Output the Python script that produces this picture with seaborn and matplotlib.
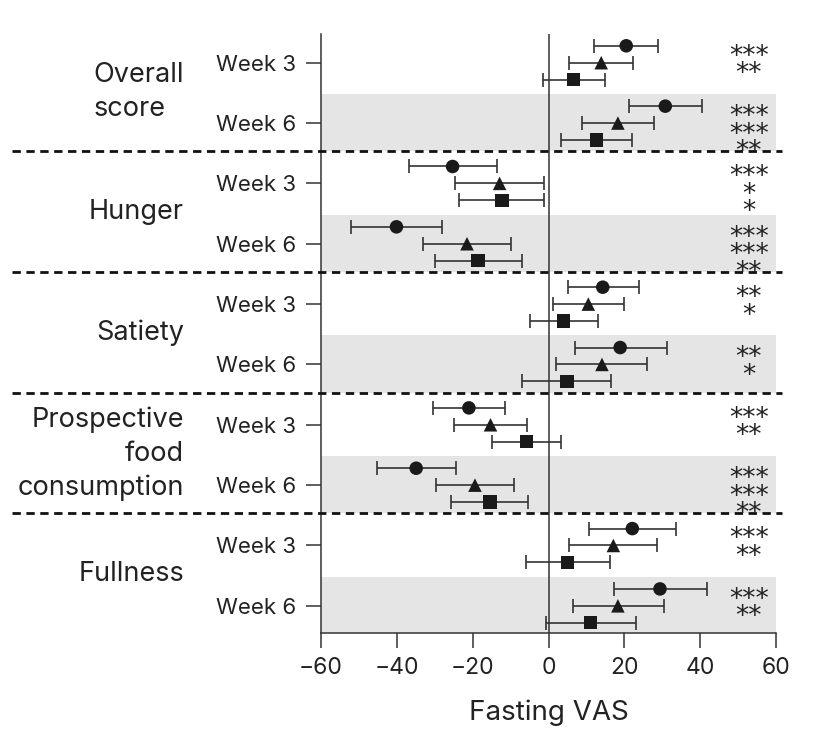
import numpy as np
import pandas as pd
import seaborn as sns
import matplotlib.pyplot as plt

# groups and weeks (y axis)
groups = ["Overall\nscore", "Hunger", "Satiety", "Prospective\nfood\nconsumption", "Fullness"]
weeks = ["Week 3", "Week 6"]

# circle series
circ = [20.5, 30.8, -25.3, -40.1, 14.3, 18.9, -21.0, -34.9, 22.1, 29.4]
circ_lo = [12.1, 21.2, -36.9, -52.1, 5.2, 7.0, -30.5, -45.3, 10.7, 17.2]
circ_hi = [29.0, 40.4, -13.6, -28.2, 23.9, 31.2, -11.4, -24.3, 33.5, 41.7]
circ_sig = ["***", "***", "***", "***", "**", "**", "***", "***", "***", "***"]

# triangle series
tri = [13.9, 18.3, -12.9, -21.5, 10.5, 14.1, -15.3, -19.4, 17.1, 18.3]
tri_lo = [5.4, 8.8, -24.6, -33.2, 1.2, 2.1, -24.8, -29.8, 5.5, 6.4]
tri_hi = [22.3, 27.7, -1.2, -9.8, 19.8, 26.1, -5.6, -9.0, 28.5, 30.5]
tri_sig = ["**", "***", "*", "***", "*", "*", "**", "***", "**", "**"]

# square series
sq = [6.6, 12.6, -12.2, -18.6, 4.0, 4.9, -5.8, -15.5, 5.0, 11.1]
sq_lo = [-1.4, 3.4, -23.5, -30.0, -5.0, -6.9, -15.0, -25.6, -5.9, -0.7]
sq_hi = [14.8, 21.9, -1.1, -7.1, 13.0, 16.5, 3.4, -5.3, 16.1, 23.0]
sq_sig = ["", "**", "*", "**", "", "", "", "**", "", ""]

xticks = [-60, -40, -20, 0, 20, 40, 60]

sns.set_style("ticks")
plt.rcParams['font.family'] = ['Inter', 'DejaVu Sans']
ink = "#222222"

rows = np.arange(len(groups) * len(weeks))
series = [("circle", "o", circ, circ_lo, circ_hi, -0.28),
          ("triangle", "^", tri, tri_lo, tri_hi, 0.0),
          ("square", "s", sq, sq_lo, sq_hi, 0.28)]

frames = []
for name, m, mean, lo, hi, off in series:
    frames.append(pd.DataFrame({"series": name, "x": mean, "lo": lo, "hi": hi,
                                "y": rows + off}))
df = pd.concat(frames, ignore_index=True)

fig = plt.figure(figsize=(8.16, 7.35), dpi=100)
ax = fig.add_axes([0.3934, 0.1388, 0.5576, 0.8149])

# shaded week 6 rows and dashed separators
for g in range(len(groups)):
    top = 2 * g + 0.52
    bot = 2 * g + 1.47 if g < len(groups) - 1 else 9.45
    ax.axhspan(top, bot, color="#e5e5e5", lw=0, zorder=0)
    if g < len(groups) - 1:
        ax.plot([-0.68, 1.013], [2 * g + 1.47] * 2, transform=ax.get_yaxis_transform(),
                ls=(0, (3, 2)), color="#111111", lw=2, clip_on=False, zorder=3)

ax.axvline(0, color="#333333", lw=1.1, zorder=1)

ax.errorbar(df["x"], df["y"], xerr=[df["x"] - df["lo"], df["hi"] - df["x"]],
            fmt="none", ecolor="#333333", elinewidth=1.2, capsize=5, capthick=1.2, zorder=2)
sns.scatterplot(data=df, x="x", y="y", style="series",
                markers={"circle": "o", "triangle": "^", "square": "s"},
                color="#1a1a1a", s=95, edgecolor="none", legend=False, ax=ax, zorder=4)

# significance stars, one block per week row (circle / triangle / square)
for i in rows:
    block = "\n".join([circ_sig[i], tri_sig[i], sq_sig[i]])
    ax.text(52.8, i + 0.19, block, ha="center", va="center", multialignment="center",
            fontsize=19, family="DejaVu Sans", color=ink, linespacing=0.58)

ax.set_xlim(-60, 60)
ax.set_ylim(9.45, -0.475)
ax.set_xticks(xticks)
ax.set_xticklabels([f"{t}".replace("-", "\u2212") for t in xticks], fontsize=16.5, color=ink)
ax.set_yticks(rows)
ax.set_yticklabels(weeks * len(groups), fontsize=16, color=ink)
ax.tick_params(axis="both", length=11, width=1.1, color="#333333")
ax.tick_params(axis="y", pad=7)
ax.tick_params(axis="x", pad=6)
ax.set_xlabel("Fasting VAS", fontsize=20, color=ink, labelpad=15)
ax.set_ylabel("")
sns.despine(ax=ax)
for sp in ["left", "bottom"]:
    ax.spines[sp].set_linewidth(1.1)
    ax.spines[sp].set_color("#333333")

for g, label in enumerate(groups):
    ax.text(-0.301, 2 * g + 0.48, label, transform=ax.get_yaxis_transform(),
            ha="right", va="center", fontsize=19.5, color=ink, linespacing=1.39,
            multialignment="left" if g == 0 else "right")

fig.savefig("out.png", dpi=100)
